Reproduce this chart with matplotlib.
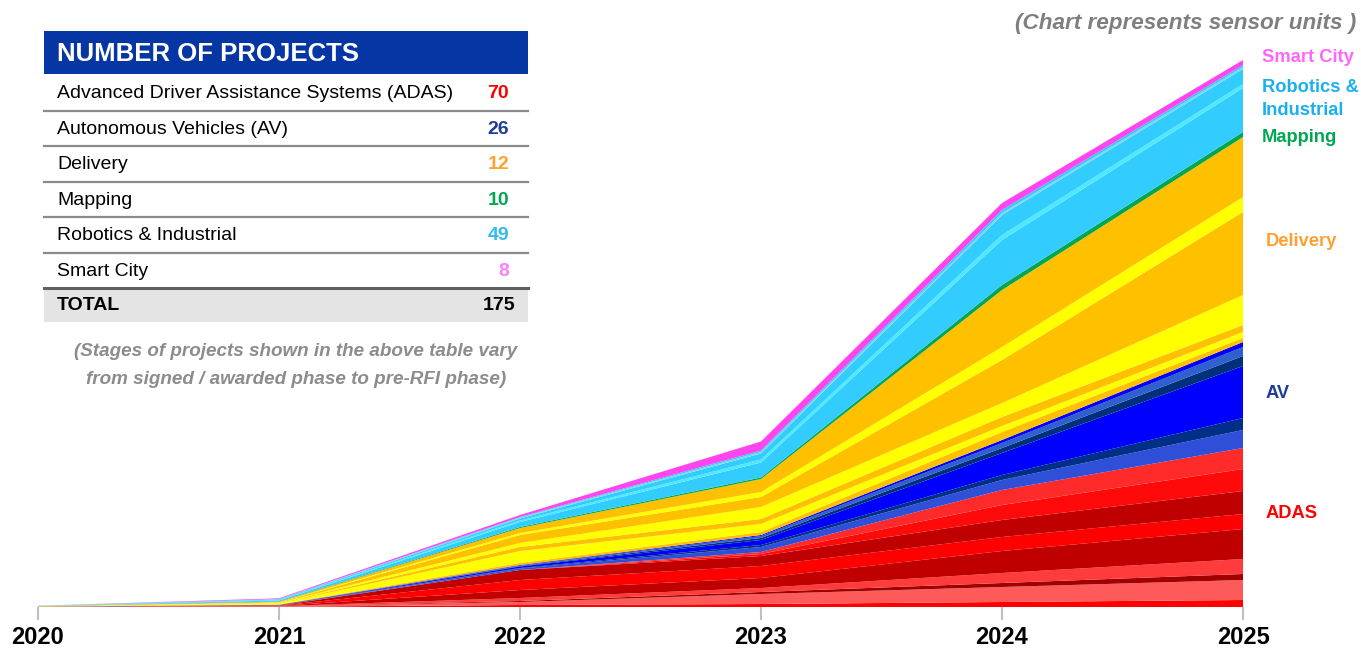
import matplotlib
matplotlib.use("Agg")
import matplotlib.pyplot as plt
from matplotlib.patches import Rectangle
from matplotlib.lines import Line2D

plt.rcParams['font.family'] = ['Liberation Sans', 'DejaVu Sans']

# ---------------- data ----------------
years = [2020, 2021, 2022, 2023, 2024, 2025]

# sensor-unit bands (bottom to top) per category, values per year
adas_bands = [
    [0.1, 0.3, 2, 3, 5, 7],
    [0.1, 0.3, 3, 10, 15, 20],
    [0.0, 0.1, 1, 2, 4, 6],
    [0.0, 0.2, 3, 4, 10, 15],
    [0.0, 0.2, 8, 10, 22, 30],
    [0.0, 0.2, 10, 12, 14, 15],
    [0.0, 0.2, 10, 10, 17, 23],
    [0.0, 0.1, 0, 2, 15, 22],
    [0.0, 0.1, 0, 2, 15, 21],
]
adas_colors = ['#ff0000', '#ff5a5a', '#a00000', '#ff3b3b', '#c00000',
               '#ff0000', '#c00000', '#ff0a0a', '#ff2a2a']

av_bands = [
    [0.05, 0.1, 1.5, 5, 10, 18],
    [0.02, 0.1, 0.5, 2, 5, 12],
    [0.05, 0.1, 1.5, 5, 22, 52],
    [0.02, 0.1, 0.5, 2, 5, 10],
    [0.02, 0.05, 0.5, 2, 5, 9],
    [0.02, 0.05, 0.5, 1, 3, 5],
]
av_colors = ['#2f4fd8', '#002f87', '#0000ff', '#00307a', '#3060d0', '#0000ff']

delivery_bands = [
    [0.05, 0.3, 2, 3, 8, 4],
    [0.1, 1.0, 12, 8, 6, 6],
    [0.05, 0.3, 4, 5, 9, 7],
    [0.1, 0.4, 4, 12, 14, 30],
    [0.05, 0.4, 8, 10, 43, 83],
    [0.05, 0.2, 2, 5, 13, 15],
    [0.05, 0.4, 5, 13, 57, 60],
]
delivery_colors = ['#ffc000', '#ffff00', '#ffc000', '#ffff00',
                   '#ffc000', '#ffff00', '#ffc000']

mapping_bands = [
    [0.05, 0.3, 1, 1.5, 5, 5],
]
mapping_colors = ['#00a650']

robotics_bands = [
    [0.1, 1.0, 5, 15, 45, 44],
    [0.05, 0.4, 1.5, 3, 5, 4],
    [0.1, 0.6, 2, 6, 20, 15],
    [0.02, 0.2, 0.8, 1.5, 2, 2],
    [0.03, 0.3, 0.7, 1.5, 3, 2],
]
robotics_colors = ['#33ccff', '#4deaff', '#33ccff', '#7ad8f0', '#33ccff']

smartcity_bands = [
    [0.05, 0.7, 2, 9, 7, 5],
]
smartcity_colors = ['#ff44f0']

table_labels = ['Advanced Driver Assistance Systems (ADAS)', 'Autonomous Vehicles (AV)',
                'Delivery', 'Mapping', 'Robotics & Industrial', 'Smart City']
table_counts = [70, 26, 12, 10, 49, 8]
table_count_colors = ['#ff0000', '#1f3c99', '#ffa030', '#00a650', '#33bbee', '#ff80ff']
table_total = 175

side_labels = ['Smart City', 'Robotics &\nIndustrial', 'Mapping', 'Delivery', 'AV', 'ADAS']
side_colors = ['#ff66ff', '#1ab0ef', '#00a650', '#ffa030', '#1f3c99', '#ff0000']

# ---------------- figure ----------------
W, H = 1361, 657
fig = plt.figure(figsize=(W / 100, H / 100), dpi=100)

def fx(px):
    return px / W

def fy(py):
    return 1 - py / H

x0_px, x1_px, base_px = 38, 1243, 607
ax = fig.add_axes([fx(x0_px), fy(base_px), fx(x1_px) - fx(x0_px), fy(0) - fy(base_px)])
ax.set_xlim(years[0], years[-1])
ax.set_ylim(0, base_px)
ax.axis('off')

all_bands = adas_bands + av_bands + delivery_bands + mapping_bands + robotics_bands + smartcity_bands
all_colors = adas_colors + av_colors + delivery_colors + mapping_colors + robotics_colors + smartcity_colors
ax.stackplot(years, *all_bands, colors=all_colors, linewidth=0, antialiased=True)

# tick marks + year labels
for yr in years:
    px = x0_px + (yr - years[0]) / (years[-1] - years[0]) * (x1_px - x0_px)
    fig.add_artist(Line2D([fx(px), fx(px)], [fy(608), fy(619)], color='#c0c0c0', lw=1.5))
    fig.text(fx(px), fy(637), str(yr), ha='center', va='center', fontsize=17,
             fontweight='bold', color='black')

# side labels
side_pos = [(1262, 57), (1262, 99), (1262, 138), (1266, 241), (1266, 394), (1266, 514)]
for lab, col, (px, py) in zip(side_labels, side_colors, side_pos):
    fig.text(fx(px), fy(py), lab, ha='left', va='center', fontsize=13.2,
             fontweight='bold', color=col, linespacing=1.5)

fig.text(fx(1356), fy(24), '(Chart represents sensor units )', ha='right', va='center',
         fontsize=16.2, fontweight='bold', fontstyle='italic', color='#7f7f7f')

# ---------------- table ----------------
tx0, tx1 = 44, 528
fig.add_artist(Rectangle((fx(tx0), fy(74)), fx(tx1) - fx(tx0), fy(31) - fy(74),
                         facecolor='#0536a3', edgecolor='none'))
fig.text(fx(57), fy(54), 'NUMBER OF PROJECTS', ha='left', va='center', fontsize=18.5,
         fontweight='bold', color='white')

row_h = 35.5
row_top = 76
for i, (lab, cnt, ccol) in enumerate(zip(table_labels, table_counts, table_count_colors)):
    cy = row_top + row_h * (i + 0.5)
    fig.text(fx(57), fy(cy), lab, ha='left', va='center', fontsize=14, color='black')
    fig.text(fx(509), fy(cy), str(cnt), ha='right', va='center', fontsize=14,
             fontweight='bold', color=ccol)
    ly = row_top + row_h * (i + 1) - 1
    lw = 2.2 if i == len(table_labels) - 1 else 1.6
    lc = '#606060' if i == len(table_labels) - 1 else '#8a8a8a'
    fig.add_artist(Line2D([fx(tx0), fx(tx1)], [fy(ly), fy(ly)], color=lc, lw=lw))

tot_top = row_top + row_h * len(table_labels)
fig.add_artist(Rectangle((fx(tx0), fy(322)), fx(tx1) - fx(tx0), fy(tot_top) - fy(322),
                         facecolor='#e4e4e4', edgecolor='none', zorder=0))
fig.text(fx(57), fy(305), 'TOTAL', ha='left', va='center', fontsize=14,
         fontweight='bold', color='black')
fig.text(fx(515), fy(305), str(table_total), ha='right', va='center', fontsize=14,
         fontweight='bold', color='black')

fig.text(fx(296), fy(352), '(Stages of projects shown in the above table vary',
         ha='center', va='center', fontsize=13.6, fontweight='bold', fontstyle='italic',
         color='#8c8c8c')
fig.text(fx(296), fy(380), 'from signed / awarded phase to pre-RFI phase)',
         ha='center', va='center', fontsize=13.6, fontweight='bold', fontstyle='italic',
         color='#8c8c8c')

fig.savefig('out.png', dpi=100)
